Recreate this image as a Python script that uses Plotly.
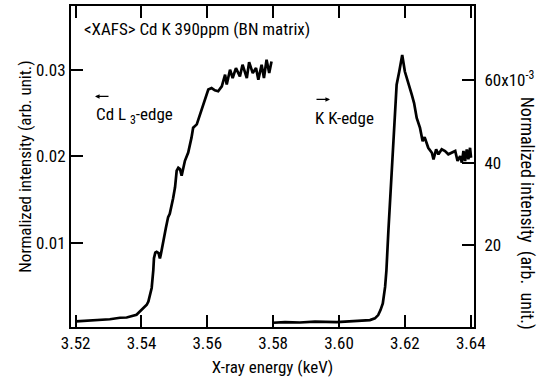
import plotly.graph_objects as go

# Cd L3-edge XANES (left axis)
cd_energy = [3.5201, 3.5243, 3.5274, 3.5304, 3.5335, 3.5355, 3.5385, 3.5395, 3.5416, 3.5421,
             3.5426, 3.5431, 3.5436, 3.5438, 3.5442, 3.5446, 3.5452, 3.5456, 3.5459, 3.5466,
             3.5474, 3.5481, 3.5486, 3.5496, 3.5502, 3.5507, 3.5512, 3.5517, 3.5522, 3.5532,
             3.5542, 3.5552, 3.5557, 3.5568, 3.5578, 3.5588, 3.5596, 3.5603, 3.5613, 3.5623,
             3.5633, 3.5644, 3.5654, 3.5659, 3.5669, 3.5677, 3.5687, 3.5699, 3.5707, 3.5720,
             3.5727, 3.5738, 3.5748, 3.5755, 3.5765, 3.5772, 3.5780, 3.5788, 3.5795]
cd_intensity = [0.00086, 0.00094, 0.00106, 0.00112, 0.00129, 0.00132, 0.00163, 0.00198, 0.00279, 0.00317,
                0.00382, 0.00474, 0.00681, 0.00819, 0.00883, 0.00892, 0.00877, 0.00816, 0.00865, 0.00988,
                0.01165, 0.01295, 0.01334, 0.01510, 0.01640, 0.01832, 0.01866, 0.01852, 0.01774, 0.01947,
                0.02043, 0.02215, 0.02330, 0.02369, 0.02484, 0.02599, 0.02715, 0.02772, 0.02790, 0.02764,
                0.02753, 0.02810, 0.02945, 0.02830, 0.03002, 0.02906, 0.03021, 0.02925, 0.03060, 0.02906,
                0.03090, 0.02963, 0.03021, 0.02887, 0.03060, 0.02906, 0.03117, 0.02963, 0.03098]

# K K-edge XANES (right axis, in units of 10^-3)
k_energy = [3.5799, 3.5836, 3.5881, 3.5927, 3.5993, 3.6033, 3.6064, 3.6094, 3.6109, 3.6119,
            3.6126, 3.6133, 3.6140, 3.6144, 3.6150, 3.6157, 3.6160, 3.6168, 3.6175, 3.6183,
            3.6192, 3.6200, 3.6210, 3.6216, 3.6221, 3.6228, 3.6236, 3.6246, 3.6254, 3.6260,
            3.6264, 3.6271, 3.6282, 3.6287, 3.6295, 3.6302, 3.6312, 3.6322, 3.6332, 3.6343,
            3.6353, 3.6360, 3.6368, 3.6373, 3.6378, 3.6383, 3.6388, 3.6393, 3.6398, 3.6401]
k_intensity_milli = [1.04, 1.21, 1.09, 1.33, 1.21, 1.45, 1.57, 1.69, 2.10, 2.90,
                     4.11, 5.73, 9.75, 13.78, 23.46, 33.13, 37.17, 49.26, 58.94, 62.15,
                     66.19, 62.15, 59.73, 58.11, 56.52, 54.49, 50.86, 48.44, 45.22, 46.19,
                     45.22, 43.60, 42.39, 40.80, 43.22, 42.01, 43.22, 42.81, 42.01, 42.39,
                     42.81, 40.39, 41.60, 39.98, 42.81, 40.39, 43.22, 40.80, 43.60, 41.18]

x_ticks = [3.52, 3.54, 3.56, 3.58, 3.60, 3.62, 3.64]
x_ticklabels = ["3.52", "3.54", "3.56", "3.58", "3.60", "3.62", "3.64"]
left_ticks = [0.01, 0.02, 0.03]
left_ticklabels = ["0.01", "0.02", "0.03"]
right_ticks = [20, 40, 60]
right_ticklabels = ["20", "40", "60x10<sup>-3</sup>"]

FONT = "Roboto Condensed, Liberation Sans Narrow, sans-serif"
BLACK = "#000000"
FS = 17
PAD = "\u2009\u200a"  # small gap between the right axis and its labels

# plot-area edges in pixels, used to place free text in paper coordinates
PL, PR, PT, PB = 71, 474, 4, 327

fig = go.Figure()
fig.add_trace(go.Scatter(x=cd_energy, y=cd_intensity, mode="lines",
                         line=dict(color=BLACK, width=2.7), yaxis="y", showlegend=False))
fig.add_trace(go.Scatter(x=k_energy, y=k_intensity_milli, mode="lines",
                         line=dict(color=BLACK, width=2.7), yaxis="y2", showlegend=False))

axis_common = dict(showline=True, linecolor=BLACK, linewidth=2, ticks="inside",
                   ticklen=12, tickwidth=2, tickcolor=BLACK, showgrid=False, zeroline=False,
                   tickfont=dict(family=FONT, size=FS, color=BLACK))

fig.update_layout(
    width=538, height=380,
    margin=dict(l=PL, r=538 - PR, t=PT, b=380 - PB),
    paper_bgcolor="white", plot_bgcolor="white",
    font=dict(family=FONT, size=FS, color=BLACK),
    xaxis=dict(range=[3.5186, 3.641], tickvals=x_ticks, ticktext=x_ticklabels,
               mirror="ticks",
               title=dict(text="X-ray energy (keV)", font=dict(family=FONT, size=FS), standoff=9),
               **axis_common),
    yaxis=dict(range=[0.00022, 0.0374], tickvals=left_ticks, ticktext=left_ticklabels,
               title=dict(text="Normalized intensity (arb. unit.)", font=dict(family=FONT, size=FS),
                          standoff=0),
               **axis_common),
    yaxis2=dict(range=[0, 78.1], tickvals=right_ticks,
                ticktext=[PAD + t for t in right_ticklabels],
                overlaying="y", side="right", **axis_common),
)


def px_x(v):
    return (v - PL) / (PR - PL)


def px_y(v):
    return (PB - v) / (PB - PT)


annotations = [
    dict(text="&lt;XAFS&gt; Cd K 390ppm (BN matrix)", x=82, y=27, xanchor="left", size=FS),
    dict(text="Cd L <sub>3</sub>-edge", x=94, y=114, xanchor="left", size=FS),
    dict(text="K K-edge", x=313, y=117, xanchor="left", size=FS),
    dict(text="Normalized&nbsp;intensity&nbsp;&nbsp;(arb.&nbsp;&nbsp;unit.)",
         x=527, y=212, xanchor="center", size=18, angle=90),
]
for a in annotations:
    fig.add_annotation(xref="paper", yref="paper", showarrow=False,
                       x=px_x(a["x"]), y=px_y(a["y"]), text=a["text"],
                       xanchor=a["xanchor"], yanchor="middle", textangle=a.get("angle", 0),
                       font=dict(family=FONT, color=BLACK, size=a["size"]))

# direction arrows for each edge
for head_x, tail_x, y in [(95, 110, 95), (330, 315, 98)]:
    fig.add_annotation(xref="paper", yref="paper", x=px_x(head_x), y=px_y(y),
                       axref="pixel", ayref="pixel", ax=tail_x - head_x, ay=0,
                       showarrow=True, arrowhead=2, arrowsize=0.7, arrowwidth=1.3,
                       arrowcolor=BLACK, text="")

fig.write_html("out.html")
